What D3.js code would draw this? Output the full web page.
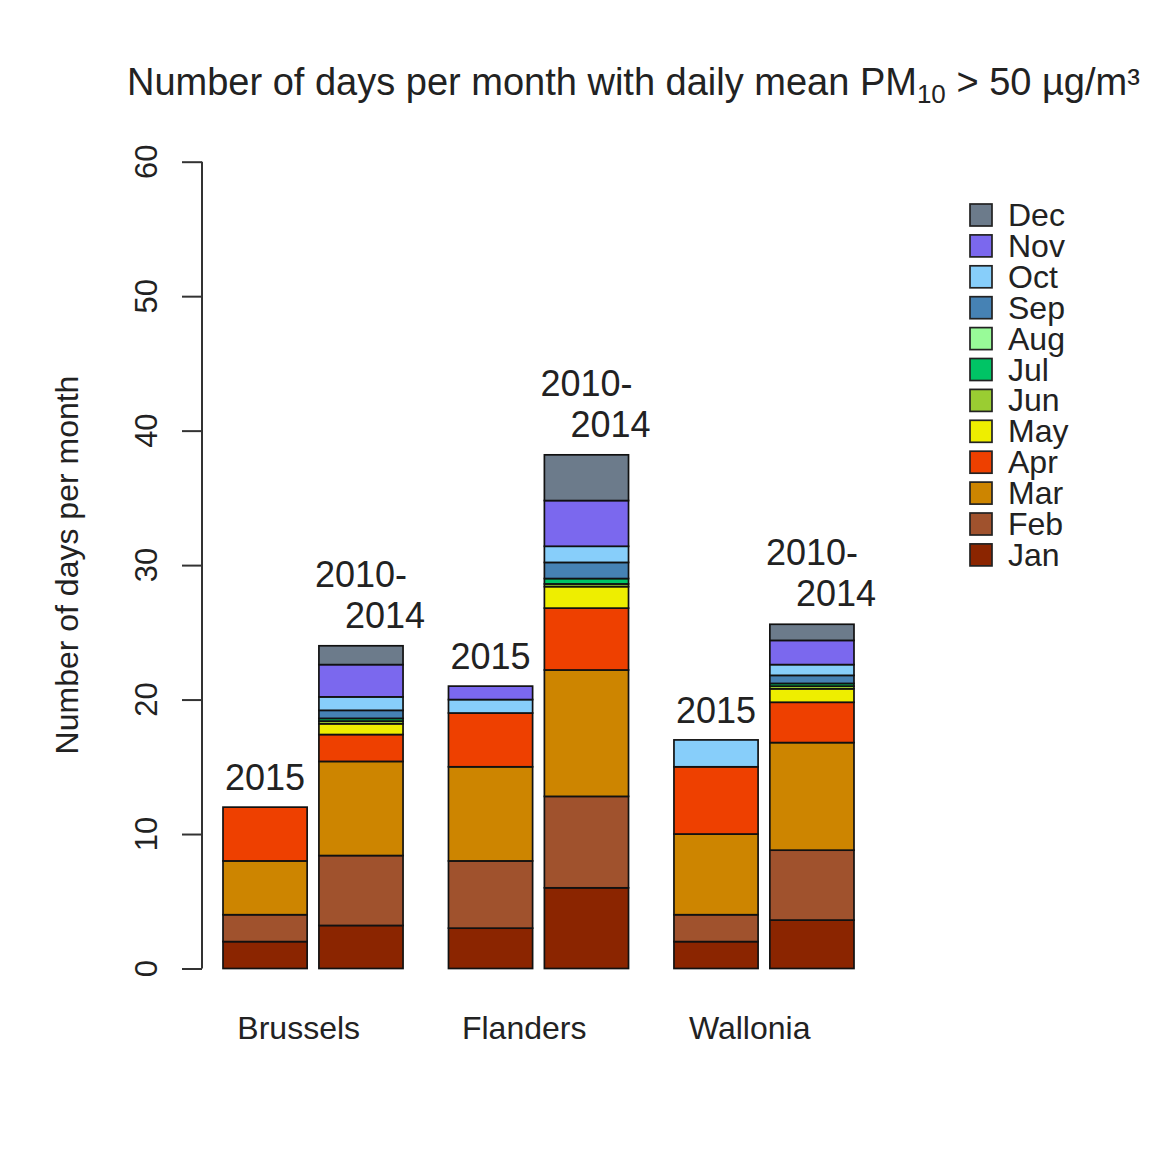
<!DOCTYPE html>
<html>
<head>
<meta charset="utf-8">
<script src="https://cdn.jsdelivr.net/npm/d3@7"></script>
<style>
  html, body { margin: 0; padding: 0; background: #ffffff; }
  svg { display: block; font-family: "Liberation Sans", Arial, Helvetica, sans-serif; }
</style>
</head>
<body>
<svg id="chart" width="1154" height="1153"></svg>
<script>
// ---------- data ----------
const months = ["Jan","Feb","Mar","Apr","May","Jun","Jul","Aug","Sep","Oct","Nov","Dec"];
const monthColors = ["#8B2500","#A0522D","#CD8500","#EE4000","#EEEE00","#9ACD32",
                     "#00C465","#98FB98","#4682B4","#87CEFA","#7B68EE","#6C7B8B"];
const regions = ["Brussels","Flanders","Wallonia"];
const periods = ["2015","2010-2014"];
const brussels2015  = [2, 2, 4, 4, 0, 0, 0, 0, 0, 0, 0, 0];
const brussels1014  = [3.2, 5.2, 7.0, 2.0, 0.8, 0.2, 0.2, 0, 0.6, 1.0, 2.4, 1.4];
const flanders2015  = [3, 5, 7, 4, 0, 0, 0, 0, 0, 1, 1, 0];
const flanders1014  = [6.0, 6.8, 9.4, 4.6, 1.6, 0.2, 0.4, 0, 1.2, 1.2, 3.4, 3.4];
const wallonia2015  = [2, 2, 6, 5, 0, 0, 0, 0, 0, 2, 0, 0];
const wallonia1014  = [3.6, 5.2, 8.0, 3.0, 1.0, 0.2, 0.2, 0, 0.6, 0.8, 1.8, 1.2];
const yTicks = [0, 10, 20, 30, 40, 50, 60];
const titleMain = "Number of days per month with daily mean PM";
const titleSub = "10";
const titleEnd = " > 50 µg/m³";
const yLabel = "Number of days per month";

// ---------- build table ----------
const series = [brussels2015, brussels1014, flanders2015, flanders1014, wallonia2015, wallonia1014];
const barsData = series.map((vals, i) => {
  const row = { region: regions[Math.floor(i / 2)], period: periods[i % 2], idx: i };
  months.forEach((m, j) => row[m] = vals[j]);
  return row;
});

// bar positions in "bar width" units (R barplot style spacing)
const smallGap = 0.14, bigGap = 0.54;
let cursor = 0;
barsData.forEach((d, i) => {
  if (i > 0) cursor += (i % 2 === 1) ? smallGap : bigGap;
  d.left = cursor;
  cursor += 1;
  d.total = months.reduce((s, m) => s + d[m], 0);
});
const totalUnits = cursor;

const svg = d3.select("#chart");
const x = d3.scaleLinear().domain([0, totalUnits]).range([223, 854]);
const y = d3.scaleLinear().domain([0, 60]).range([968.5, 161.7]);

const stack = d3.stack().keys(months);
const stacked = stack(barsData);

// ---------- bars ----------
const layers = svg.append("g").selectAll("g")
  .data(stacked).join("g")
  .attr("fill", (d, i) => monthColors[i]);

layers.selectAll("rect")
  .data(d => d.filter(p => p[1] - p[0] > 0))
  .join("rect")
  .attr("x", p => x(p.data.left))
  .attr("width", x(1) - x(0))
  .attr("y", p => y(p[1]))
  .attr("height", p => y(p[0]) - y(p[1]))
  .attr("stroke", "#111")
  .attr("stroke-width", 1.7);

// ---------- y axis ----------
const yAxis = d3.axisLeft(y).tickValues(yTicks).tickSize(20).tickSizeOuter(0).tickFormat("");
const ax = svg.append("g").attr("transform", "translate(202,0)").call(yAxis);
ax.select(".domain").attr("stroke", "#333").attr("stroke-width", 2).attr("d", `M0,${y(60)}V${y(0)}`);
ax.selectAll(".tick line").attr("stroke", "#333").attr("stroke-width", 2);

svg.append("g").selectAll("text")
  .data(yTicks).join("text")
  .attr("transform", d => `translate(157,${y(d)}) rotate(-90)`)
  .attr("text-anchor", "middle")
  .attr("font-size", 31)
  .attr("fill", "#222")
  .text(d => d);

svg.append("text")
  .attr("transform", `translate(78,565) rotate(-90)`)
  .attr("text-anchor", "middle")
  .attr("font-size", 32)
  .attr("fill", "#222")
  .text(yLabel);

// ---------- period labels ----------
const bw = x(1) - x(0);
const lab = svg.append("g").attr("font-size", 36).attr("fill", "#222").attr("text-anchor", "middle");
barsData.forEach(d => {
  const cx = x(d.left) + bw / 2;
  const top = y(d.total);
  if (d.period === "2015") {
    lab.append("text").attr("x", cx).attr("y", top - 17).text(d.period);
  } else {
    const parts = d.period.split("-");
    lab.append("text").attr("x", cx).attr("y", top - 59).text(parts[0] + "-");
    lab.append("text").attr("x", cx + 24).attr("y", top - 18).text(parts[1]);
  }
});

// ---------- region labels ----------
svg.append("g").selectAll("text")
  .data(barsData.filter(d => d.period === "2015")).join("text")
  .attr("x", d => x(d.left + 0.9))
  .attr("y", 1039)
  .attr("text-anchor", "middle")
  .attr("font-size", 32)
  .attr("fill", "#222")
  .text(d => d.region);

// ---------- title ----------
const title = svg.append("text").attr("x", 127).attr("y", 95).attr("font-size", 38).attr("fill", "#222");
title.append("tspan").text(titleMain);
title.append("tspan").attr("font-size", 26).attr("dy", 8).text(titleSub);
title.append("tspan").attr("dy", -8).text(titleEnd);

// ---------- legend ----------
const legendMonths = months.slice().reverse();
const lg = svg.append("g");
const legRow = lg.selectAll("g").data(legendMonths).join("g")
  .attr("transform", (d, i) => `translate(970,${215 + i * 30.9})`);
legRow.append("rect")
  .attr("x", 0).attr("y", -11).attr("width", 22).attr("height", 22)
  .attr("fill", d => monthColors[months.indexOf(d)])
  .attr("stroke", "#222").attr("stroke-width", 1.7);
legRow.append("text")
  .attr("x", 38).attr("y", 11)
  .attr("font-size", 32)
  .attr("fill", "#222")
  .text(d => d);
</script>
</body>
</html>
